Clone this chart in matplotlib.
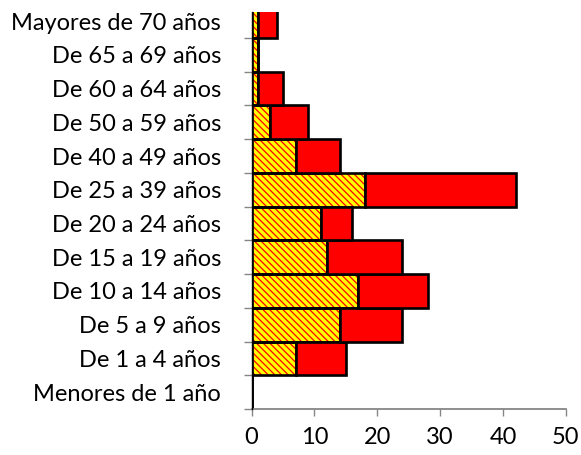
import matplotlib
matplotlib.use('Agg')
from matplotlib import pyplot as plt

# age groups, bottom to top
grupos = ['Menores de 1 año', 'De 1 a 4 años', 'De 5 a 9 años', 'De 10 a 14 años',
          'De 15 a 19 años', 'De 20 a 24 años', 'De 25 a 39 años', 'De 40 a 49 años',
          'De 50 a 59 años', 'De 60 a 64 años', 'De 65 a 69 años', 'Mayores de 70 años']
serie_a = [0, 7, 14, 17, 12, 11, 18, 7, 3, 1, 1, 1]
serie_b = [0, 8, 10, 11, 12, 5, 24, 7, 6, 4, 0, 3]

plt.rcParams['font.family'] = ['Lato', 'DejaVu Sans']
plt.rcParams['hatch.linewidth'] = 0.9

fig = plt.figure(figsize=(5.81, 4.55), dpi=100)
ax = fig.add_axes([0.4329, 0.1011, 0.5411, 0.8725])

y = list(range(len(grupos)))

# hatched part first, then the solid part stacked on it
ax.barh(y, serie_a, height=1.0, color='#ffff00', edgecolor='#ff0000',
        hatch='\\\\\\\\\\', linewidth=0)
ax.barh(y, serie_a, height=1.0, fill=False, edgecolor='black', linewidth=1.9)
ax.barh(y, serie_b, left=serie_a, height=1.0, color='#ff0000',
        edgecolor='black', linewidth=1.9)

ax.set_xlim(0, 50)
ax.set_ylim(-0.5, 11.27)
ax.set_xticks([0, 10, 20, 30, 40, 50])

ax.set_yticks(y)
ax.set_yticklabels(grupos)
ax.set_yticks([i + 0.5 for i in range(-1, 11)], minor=True)
ax.tick_params(axis='y', which='major', length=0, pad=22, labelsize=17)
ax.tick_params(axis='y', which='minor', length=6, color='#868686', width=1)
ax.tick_params(axis='x', length=5, color='#868686', width=1, labelsize=17, pad=8)

ax.spines['top'].set_visible(False)
ax.spines['right'].set_visible(False)
ax.spines['left'].set_color('black')
ax.spines['left'].set_linewidth(1)
ax.spines['bottom'].set_color('#868686')
ax.spines['bottom'].set_linewidth(1.3)
ax.spines['left'].set_zorder(5)

fig.savefig('out.png', dpi=100)
